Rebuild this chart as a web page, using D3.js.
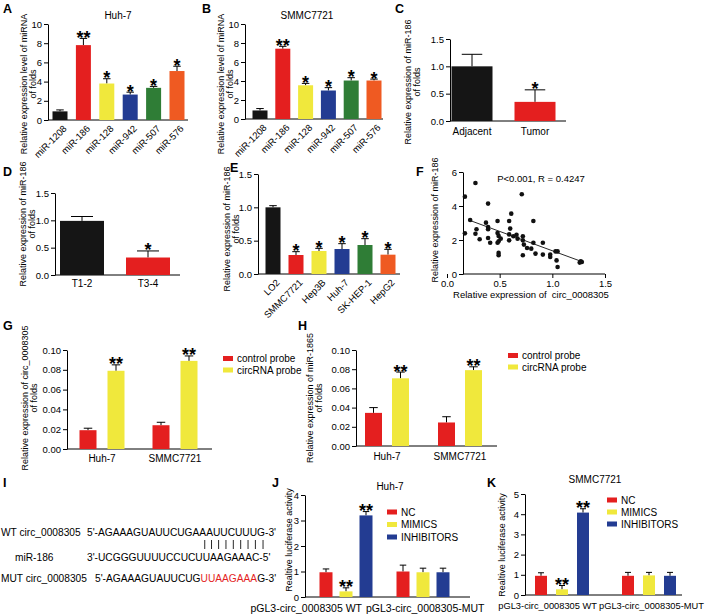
<!DOCTYPE html>
<html><head><meta charset="utf-8">
<script src="https://cdn.jsdelivr.net/npm/d3@7"></script>
<style>
body{margin:0;background:#fff}
svg{font-family:"Liberation Sans",Arial,Helvetica,sans-serif}
</style></head><body>
<svg id="c" width="709" height="614"></svg>
<script>
// ---------------- DATA ----------------
const six = ["#151515","#e41f1f","#f0e83c","#233c92","#2f7d36","#ef5a22"];
const pair = ["#e41f1f","#f0e83c"];
const trio = ["#e41f1f","#f0e83c","#233c92"];

const aCats = ["miR-1208","miR-186","miR-128","miR-942","miR-507","miR-576"];
const aVals = [0.9, 7.8, 3.8, 2.65, 3.35, 5.1];
const aErrs = [1.05, 8.5, 4.3, 2.9, 3.5, 5.6];
const aStars = ["","**","*","*","*","*"];

const bVals = [0.9, 7.4, 3.55, 3.0, 4.05, 4.05];
const bErrs = [1.1, 7.65, 3.75, 3.3, 4.35, 4.2];
const bStars = ["","**","*","*","*","*"];

const abTicks = [0,2,4,6,8,10];

const cCats = ["Adjacent","Tumor"];
const cVals = [1.0, 0.35];
const cErrs = [1.22, 0.57];
const cStars = ["","*"];

const dCats = ["T1-2","T3-4"];
const dVals = [0.99, 0.32];
const dErrs = [1.07, 0.44];
const dStars = ["","*"];

const cdeTicks = [0,0.5,1.0,1.5];

const eCats = ["LO2","SMMC7721","Hep3B","Huh-7","SK-HEP-1","HepG2"];
const eVals = [1.0, 0.285, 0.345, 0.375, 0.435, 0.29];
const eErrs = [1.025, 0.335, 0.385, 0.455, 0.53, 0.37];
const eStars = ["","*","*","*","*","*"];

const fX = [0.27,0.71,0.39,0.61,0.37,0.48,0.59,0.82,0.39,0.28,0.27,0.48,0.60,0.31,0.39,0.41,0.49,0.51,0.49,0.59,0.59,0.63,0.66,0.67,0.72,0.72,0.73,0.76,0.80,0.82,0.84,0.91,0.91,0.98,0.98,1.03,1.05,1.04,1.05,1.26,1.27,1.28,0.49,0.49,0.72,0.48,0.39,0.17,0.17,0.22];
const fY = [5.35,4.69,4.14,3.55,3.02,3.12,3.12,3.12,2.76,2.63,2.37,2.41,2.67,2.04,2.12,1.84,2.24,2.08,1.92,2.33,1.98,2.22,2.31,2.08,2.22,1.98,1.73,1.53,1.49,1.84,1.20,1.84,1.14,1.14,1.00,1.33,1.33,0.80,0.41,0.67,0.75,0.71,1.24,1.10,1.10,1.84,2.63,4.55,2.39,3.18];
const fFitX = [0.20, 1.28];
const fFitY = [3.19, 0.73];
const fXTicks = [0,0.5,1.0,1.5];
const fYTicks = [0,2,4,6];

const ghGroups = ["Huh-7","SMMC7721"];
const ghSeries = ["control probe","circRNA probe"];
const gVals = [[0.019,0.079],[0.024,0.089]];
const gErrs = [[0.021,0.085],[0.027,0.094]];
const gStars = [["","**"],["","**"]];
const hVals = [[0.0345,0.0705],[0.0245,0.079]];
const hErrs = [[0.040,0.077],[0.0305,0.0825]];
const hStars = [["","**"],["","**"]];
const ghTicks = [0,0.02,0.04,0.06,0.08,0.10];

const seqWT  = "5'-AGAAAGUAUUCUGAAAUUCUUUG-3'";
const seqMiR = "3'-UCGGGUUUUCCUCUUAAGAAAC-5'";
const seqMUTa = "5'-AGAAAGUAUUCUG";
const seqMUTb = "UUAAGAAA";
const seqMUTc = "G-3'";
const pairIdx = [17,18,19,20,21,22,23,24,25];

const jkGroups = ["pGL3-circ_0008305 WT","pGL3-circ_0008305-MUT"];
const jkSeries = ["NC","MIMICS","INHIBITORS"];
const jVals = [[0.97,0.22,3.2],[1.0,0.97,0.97]];
const jErrs = [[1.1,0.36,3.35],[1.25,1.13,1.13]];
const jStars = [["","**","**"],["","",""]];
const kVals = [[0.95,0.28,4.08],[0.95,0.97,0.95]];
const kErrs = [[1.1,0.47,4.27],[1.12,1.12,1.12]];
const kStars = [["","**","**"],["","",""]];
const jTicks = [0,1,2,3,4];
const kTicks = [0,1,2,3,4,5];

// ---------------- DRAW ----------------
const svg = d3.select("#c");
const TICKFS = 9.5;

function styleAxis(g){
  g.selectAll("path.domain").attr("stroke","#000").attr("stroke-width",1);
  g.selectAll(".tick line").attr("stroke","#000");
  g.selectAll(".tick text").attr("font-size",TICKFS).attr("fill","#000").attr("font-family",null);
}
function yAxis(y, x, ticks, fmt){
  svg.append("g").attr("transform",`translate(${x},0)`)
    .call(d3.axisLeft(y).tickValues(ticks).tickFormat(fmt).tickSize(4).tickSizeOuter(0).tickPadding(2))
    .call(styleAxis);
}
function xLine(x1,x2,y){
  svg.append("line").attr("x1",x1).attr("x2",x2).attr("y1",y).attr("y2",y).attr("stroke","#000");
}
function yLabel(x, cy, lines, fs){
  const t = svg.append("text").attr("transform",`translate(${x},${cy}) rotate(-90)`)
    .attr("text-anchor","middle").attr("font-size",fs||9);
  lines.forEach((l,i)=>t.append("tspan").attr("x",0).attr("dy", i===0?0:"1.05em").text(l));
}
function letter(t,x,y){
  svg.append("text").attr("x",x).attr("y",y).attr("font-size",12.5).attr("font-weight","bold").text(t);
}
function title(t,x,y){
  svg.append("text").attr("x",x).attr("y",y).attr("text-anchor","middle").attr("font-size",10).text(t);
}
function bar(cx, w, v, e, s, color, y){
  const g = svg.append("g");
  g.append("line").attr("x1",cx).attr("x2",cx).attr("y1",y(v)).attr("y2",y(e)).attr("stroke","#000");
  g.append("line").attr("x1",cx-w/4).attr("x2",cx+w/4).attr("y1",y(e)).attr("y2",y(e)).attr("stroke","#000");
  g.append("rect").attr("x",cx-w/2).attr("y",y(v)).attr("width",w).attr("height",y(0)-y(v)).attr("fill",color);
  if (s) g.append("text").attr("x",cx).attr("y",y(e)+5.5).attr("text-anchor","middle")
      .attr("font-size",18).attr("font-weight","bold").text(s);
}

function barPanel(o){
  const x = d3.scalePoint().domain(o.cats).range(o.centers);
  const y = d3.scaleLinear().domain(o.domain).range(o.yr);
  yAxis(y, o.ax, o.ticks, o.fmt);
  xLine(o.ax, o.axEnd, y(0));
  o.cats.forEach((c,i)=>bar(x(c), o.w, o.vals[i], o.errs[i], o.stars[i], o.colors[i], y));
  o.cats.forEach((c,i)=>{
    if (o.rotate){
      svg.append("text").attr("transform",`translate(${x(c)+5},${y(0)+7}) rotate(-45)`)
        .attr("text-anchor","end").attr("dy","0.35em").attr("font-size",9.5).text(c);
    } else {
      svg.append("text").attr("x",x(c)).attr("y",y(0)+o.labDy).attr("text-anchor","middle").attr("font-size",10).text(c);
    }
  });
}

function groupPanel(o){
  const x = d3.scalePoint().domain(o.groups).range(o.centers);
  const xi = d3.scalePoint().domain(o.series).range(o.inner);
  const y = d3.scaleLinear().domain(o.domain).range(o.yr);
  yAxis(y, o.ax, o.ticks, o.fmt);
  xLine(o.ax, o.axEnd, y(0));
  o.groups.forEach((gname,gi)=>{
    o.series.forEach((s,si)=>bar(x(gname)+xi(s), o.w, o.vals[gi][si], o.errs[gi][si], o.stars[gi][si], o.colors[si], y));
  });
  o.groups.forEach((gname,gi)=>{
    const lp = o.labPos ? o.labPos[gi] : {dx:0, anchor:"middle"};
    svg.append("text").attr("x",x(gname)+lp.dx).attr("y",y(0)+o.labDy).attr("text-anchor",lp.anchor)
      .attr("font-size",o.labFs||10).text(gname);
  });
  // legend
  o.series.forEach((s,si)=>{
    const ly = o.leg[1] + si*o.leg[2];
    svg.append("rect").attr("x",o.leg[0]).attr("y",ly-2.5).attr("width",10).attr("height",5).attr("fill",o.colors[si]);
    svg.append("text").attr("x",o.leg[0]+14).attr("y",ly+3.5).attr("font-size",10).text(s);
  });
}

// ---- A ----
letter("A",3,13);
title("Huh-7",118,19);
yLabel(27,84,["Relative expression level of miRNA","of folds"]);
barPanel({cats:aCats, vals:aVals, errs:aErrs, stars:aStars, colors:six, centers:[60,177], ax:48, axEnd:188,
  domain:[0,10], yr:[120,24], ticks:abTicks, fmt:d3.format("d"), w:15, rotate:true});

// ---- B ----
letter("B",202,13);
title("SMMC7721",307,19);
yLabel(224,84,["Relative expression level of miRNA","of folds"]);
barPanel({cats:aCats, vals:bVals, errs:bErrs, stars:bStars, colors:six, centers:[260,374], ax:245, axEnd:383,
  domain:[0,10], yr:[119,24], ticks:abTicks, fmt:d3.format("d"), w:15, rotate:true});

// ---- C ----
letter("C",395,13);
yLabel(411,82,["Relative expression of miR-186","of folds"]);
barPanel({cats:cCats, vals:cVals, errs:cErrs, stars:cStars, colors:[six[0],six[1]], centers:[472,535], ax:450, axEnd:566,
  domain:[0,1.5], yr:[121,39], ticks:cdeTicks, fmt:d3.format(".1f"), w:41, rotate:false, labDy:14});

// ---- D ----
letter("D",3,176);
yLabel(26,224,["Relative expression of miR-186","of folds"]);
barPanel({cats:dCats, vals:dVals, errs:dErrs, stars:dStars, colors:[six[0],six[1]], centers:[82,148], ax:55, axEnd:180,
  domain:[0,1.5], yr:[275,193], ticks:cdeTicks, fmt:d3.format(".1f"), w:44, rotate:false, labDy:12});

// ---- E ----
letter("E",230,172);
yLabel(230,229,["Relative expression of miR-186","of folds"]);
barPanel({cats:eCats, vals:eVals, errs:eErrs, stars:eStars, colors:six, centers:[273,388], ax:258, axEnd:400,
  domain:[0,1.5], yr:[274,174], ticks:cdeTicks, fmt:d3.format(".1f"), w:15, rotate:true});

// ---- F ----
letter("F",416,176);
(function(){
  const x = d3.scaleLinear().domain([0,1.5]).range([447,605]);
  const y = d3.scaleLinear().domain([0,6]).range([274,172]);
  const ax = 463;
  yAxis(y, ax, fYTicks, d3.format("d"));
  const gx = svg.append("g").attr("transform",`translate(0,${y(0)})`)
    .call(d3.axisBottom(x).tickValues(fXTicks).tickFormat(d3.format(".1f")).tickSize(4).tickSizeOuter(0).tickPadding(2))
    .call(styleAxis);
  gx.select("path.domain").remove();
  xLine(ax, x(1.5), y(0));
  svg.append("g").selectAll("circle").data(fX).join("circle")
    .attr("cx",(d)=>x(d)).attr("cy",(d,i)=>y(fY[i])).attr("r",2.3).attr("fill","#111");
  svg.append("line").attr("x1",x(fFitX[0])).attr("x2",x(fFitX[1])).attr("y1",y(fFitY[0])).attr("y2",y(fFitY[1]))
    .attr("stroke","#111").attr("stroke-width",0.9);
  svg.append("text").attr("x",541).attr("y",182).attr("text-anchor","middle").attr("font-size",9.5).text("P<0.001, R = 0.4247");
  svg.append("text").attr("x",531).attr("y",298).attr("text-anchor","middle").attr("font-size",9.5).attr("xml:space","preserve").text("Relative expression of  circ_0008305");
  yLabel(438,220,["Relative expression of miR-186"]);
})();

// ---- G ----
letter("G",3,330);
yLabel(28,398,["Relative expression of circ_0008305","of folds"]);
groupPanel({groups:ghGroups, series:ghSeries, vals:gVals, errs:gErrs, stars:gStars, colors:pair,
  centers:[102,175], inner:[-14,14], ax:67, axEnd:212, domain:[0,0.10], yr:[449,350], ticks:ghTicks,
  fmt:d3.format(".2f"), w:17, labDy:13, leg:[223,358.5,11.5]});

// ---- H ----
letter("H",298,330);
yLabel(313,398,["Relative expression of miR-1865","of folds"]);
groupPanel({groups:ghGroups, series:ghSeries, vals:hVals, errs:hErrs, stars:hStars, colors:pair,
  centers:[387,460], inner:[-13.5,13.5], ax:356, axEnd:497, domain:[0,0.10], yr:[446,350], ticks:ghTicks,
  fmt:d3.format(".2f"), w:17, labDy:14, leg:[508,355.5,11.5]});

// ---- I ----
letter("I",3,487);
(function(){
  const fs = 10.2;
  svg.append("text").attr("x",1).attr("y",536).attr("font-size",fs).text("WT circ_0008305");
  const wt = svg.append("text").attr("x",87).attr("y",536).attr("font-size",fs).text(seqWT);
  svg.append("text").attr("x",15).attr("y",561).attr("font-size",fs).text("miR-186");
  svg.append("text").attr("x",87).attr("y",561).attr("font-size",fs).text(seqMiR);
  svg.append("text").attr("x",1).attr("y",582).attr("font-size",fs).text("MUT circ_0008305");
  const mt = svg.append("text").attr("x",95).attr("y",582).attr("font-size",fs);
  mt.append("tspan").text(seqMUTa);
  mt.append("tspan").attr("fill","#e41f1f").text(seqMUTb);
  mt.append("tspan").text(seqMUTc);
  const node = wt.node();
  pairIdx.forEach(i=>{
    const ext = node.getExtentOfChar(i);
    const cx = ext.x + ext.width/2 + 2;
    svg.append("line").attr("x1",cx).attr("x2",cx).attr("y1",540).attr("y2",549).attr("stroke","#111").attr("stroke-width",0.9);
  });
})();

// ---- J ----
letter("J",272,487);
title("Huh-7",390,490);
yLabel(292,540,["Realtive luciferase activity"]);
groupPanel({groups:jkGroups, series:jkSeries, vals:jVals, errs:jErrs, stars:jStars, colors:trio,
  centers:[346,423], inner:[-20,20], ax:305, axEnd:470, domain:[0,4], yr:[597,495], ticks:jTicks,
  fmt:d3.format("d"), w:13, labDy:14.5, labFs:10.5, leg:[387,512,12.5],
  labPos:[{dx:16,anchor:"end"},{dx:-57,anchor:"start"}]});

// ---- K ----
letter("K",487,487);
title("SMMC7721",595,483);
yLabel(505,545,["Realtive luciferase activity"]);
groupPanel({groups:jkGroups, series:jkSeries, vals:kVals, errs:kErrs, stars:kStars, colors:trio,
  centers:[562,649], inner:[-21,21], ax:525, axEnd:682, domain:[0,5], yr:[595,494], ticks:kTicks,
  fmt:d3.format("d"), w:12, labDy:14, labFs:9.3, leg:[607,500,12],
  labPos:[{dx:35,anchor:"end"},{dx:-50,anchor:"start"}]});
</script>
</body></html>
